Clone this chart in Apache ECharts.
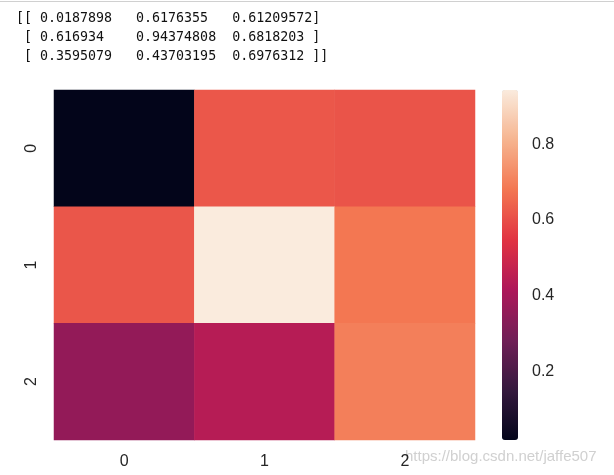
<!DOCTYPE html>
<html>
<head>
<meta charset="utf-8">
<script src="https://cdn.jsdelivr.net/npm/echarts@6/dist/echarts.min.js"></script>
<style>
html,body{margin:0;padding:0;background:#fff;}
#chart{width:614px;height:475px;}
</style>
</head>
<body>
<div id="chart"></div>
<script>
// ---- data ----
const rowLabels = ['0', '1', '2'];
const colLabels = ['0', '1', '2'];
const row0 = [0.0187898, 0.6176355, 0.61209572];
const row1 = [0.616934, 0.94374808, 0.6818203];
const row2 = [0.3595079, 0.43703195, 0.6976312];
const colorbarTicks = [0.2, 0.4, 0.6, 0.8];
const printedLines = [
  '[[ 0.0187898   0.6176355   0.61209572]',
  ' [ 0.616934    0.94374808  0.6818203 ]',
  ' [ 0.3595079   0.43703195  0.6976312 ]]'
];
const watermark = 'https://blog.csdn.net/jaffe507';
// seaborn "rocket" colormap stops
const rocket = ['#03051a', '#35193e', '#701f57', '#ad1759', '#e13342', '#f37651', '#f6b48f', '#faebdd'];

const matrix = [row0, row1, row2];
const cells = [];
matrix.forEach((row, r) => row.forEach((v, c) => cells.push([c, r, v])));
const all = matrix.flat();
const vmin = Math.min(...all);
const vmax = Math.max(...all);

const chart = echarts.init(document.getElementById('chart'), null, {renderer: 'canvas'});
const labelFont = {fontFamily: 'Liberation Sans, Arial, sans-serif', fontSize: 16, color: '#262626'};

chart.setOption({
  animation: false,
  backgroundColor: '#fff',
  grid: [
    {left: 54, top: 90, width: 421, height: 350},
    {left: 502, top: 90, width: 16, height: 350}
  ],
  xAxis: [
    {type: 'category', gridIndex: 0, data: colLabels, position: 'bottom',
     axisLine: {show: false}, axisTick: {show: false}, splitLine: {show: false},
     axisLabel: Object.assign({margin: 14}, labelFont)},
    {type: 'value', gridIndex: 1, show: false, min: 0, max: 1}
  ],
  yAxis: [
    {type: 'category', gridIndex: 0, data: rowLabels, inverse: true,
     axisLine: {show: false}, axisTick: {show: false}, splitLine: {show: false},
     axisLabel: Object.assign({margin: 14, rotate: 90}, labelFont)},
    {type: 'value', gridIndex: 1, position: 'right', min: vmin, max: vmax,
     axisLine: {show: false}, axisTick: {show: false}, splitLine: {show: false},
     axisLabel: Object.assign({margin: 14, customValues: colorbarTicks,
       formatter: v => v.toFixed(1)}, labelFont)}
  ],
  visualMap: {
    type: 'continuous', seriesIndex: 0, min: vmin, max: vmax,
    left: 502, top: 90, itemWidth: 16, itemHeight: 350, padding: 0,
    calculable: false, hoverLink: false, orient: 'vertical',
    inRange: {color: rocket}
  },
  series: [{
    type: 'heatmap', xAxisIndex: 0, yAxisIndex: 0, data: cells,
    itemStyle: {borderWidth: 0},
    emphasis: {disabled: true}
  }],
  graphic: [
    {type: 'line', shape: {x1: 0, y1: 1.5, x2: 614, y2: 1.5}, style: {stroke: '#d0d0d0', lineWidth: 1}},
    ...printedLines.map((t, i) => ({
      type: 'text', left: 16, top: 12 + i * 19,
      style: {text: t, font: '13.3px "DejaVu Sans Mono", monospace', fill: '#111'}
    })),
    {type: 'text', left: 405, top: 449,
     style: {text: watermark, font: '15px "Liberation Sans", Arial, sans-serif', fill: 'rgba(200,200,200,0.85)'}}
  ]
});
</script>
</body>
</html>
